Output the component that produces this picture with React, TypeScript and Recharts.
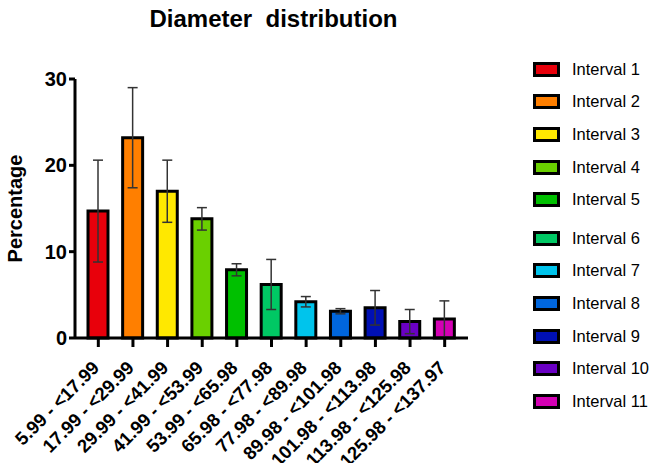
import React from 'react';
import { BarChart, Bar, XAxis, YAxis, Cell, ErrorBar, Legend } from 'recharts';

const intervals = [
  '5.99 - <17.99', '17.99 - <29.99', '29.99 - <41.99', '41.99 - <53.99',
  '53.99 - <65.98', '65.98 - <77.98', '77.98 - <89.98', '89.98 - <101.98',
  '101.98 - <113.98', '113.98 - <125.98', '125.98 - <137.97',
];
const percentages = [14.7, 23.2, 17.0, 13.8, 7.9, 6.2, 4.2, 3.1, 3.5, 1.9, 2.2];
const errors = [5.9, 5.8, 3.6, 1.3, 0.7, 2.9, 0.6, 0.3, 2.0, 1.4, 2.1];
const legendNames = [
  'Interval 1', 'Interval 2', 'Interval 3', 'Interval 4', 'Interval 5', 'Interval 6',
  'Interval 7', 'Interval 8', 'Interval 9', 'Interval 10', 'Interval 11',
];
const colors = [
  '#e8000b', '#ff7f00', '#ffe800', '#6ad000', '#00c000', '#00c864',
  '#00c4ec', '#0066dd', '#0010b4', '#6a00c4', '#d400b4',
];
const yTicks = [0, 10, 20, 30];

const data = intervals.map((name, i) => ({ name, value: percentages[i], err: errors[i] }));

const FONT = '"Liberation Sans", Arial, Helvetica, sans-serif';

const XTick = (props: any) => {
  const { x, y, payload } = props;
  const ax = x + 2;
  const ay = y + 20;
  return (
    <text
      x={ax}
      y={ay}
      textAnchor="end"
      transform={`rotate(-45, ${ax}, ${ay})`}
      fontFamily={FONT}
      fontWeight="bold"
      fontSize={18.5}
      fill="#000"
    >
      {payload.value}
    </text>
  );
};

const LegendContent = () => (
  <div style={{ fontFamily: FONT, fontSize: 16.5, color: '#000' }}>
    {legendNames.map((n, i) => (
      <div
        key={n}
        style={{ display: 'flex', alignItems: 'center', height: 32.6, marginTop: i === 5 ? 6 : 0 }}
      >
        <div
          style={{
            width: 27,
            height: 15,
            boxSizing: 'border-box',
            border: '3px solid #000',
            background: colors[i],
            marginRight: 12,
          }}
        />
        <span>{n}</span>
      </div>
    ))}
  </div>
);

const App = () => {
  return (
    <div style={{ position: 'absolute', left: 0, top: 0, width: 653, height: 463, background: '#fff', overflow: 'hidden' }}>
      <div
        style={{
          position: 'absolute',
          left: 0,
          top: 5,
          width: 547,
          textAlign: 'center',
          fontFamily: FONT,
          fontWeight: 'bold',
          fontSize: 24,
          whiteSpace: 'pre',
          zIndex: 1,
        }}
      >
        Diameter  distribution
      </div>
      <BarChart width={653} height={463} data={data} margin={{ top: 79, right: 65, left: 0, bottom: 0 }}>
        <XAxis
          dataKey="name"
          interval={0}
          height={125}
          padding={{ left: 6, right: 6 }}
          tick={<XTick />}
          tickSize={9}
          axisLine={{ stroke: '#000', strokeWidth: 3 }}
          tickLine={{ stroke: '#000', strokeWidth: 3 }}
        />
        <YAxis
          width={75}
          domain={[0, 30]}
          ticks={yTicks}
          tickSize={6}
          axisLine={{ stroke: '#000', strokeWidth: 3 }}
          tickLine={{ stroke: '#000', strokeWidth: 3 }}
          tick={{ fill: '#000', fontFamily: FONT, fontWeight: 'bold', fontSize: 20 }}
          label={{
            value: 'Percentage',
            angle: -90,
            position: 'insideLeft',
            offset: 15,
            style: { fill: '#000', fontFamily: FONT, fontWeight: 'bold', fontSize: 20, textAnchor: 'middle' },
          }}
        />
        <Legend
          layout="vertical"
          align="right"
          verticalAlign="top"
          wrapperStyle={{ left: 533, top: 53, width: 120 }}
          content={<LegendContent />}
        />
        <Bar dataKey="value" barSize={20} stroke="#000" strokeWidth={3} isAnimationActive={false}>
          {data.map((d, i) => (
            <Cell key={d.name} fill={colors[i]} />
          ))}
          <ErrorBar dataKey="err" width={5} stroke="#333" strokeWidth={1.5} direction="y" />
        </Bar>
      </BarChart>
    </div>
  );
};

export default App;
